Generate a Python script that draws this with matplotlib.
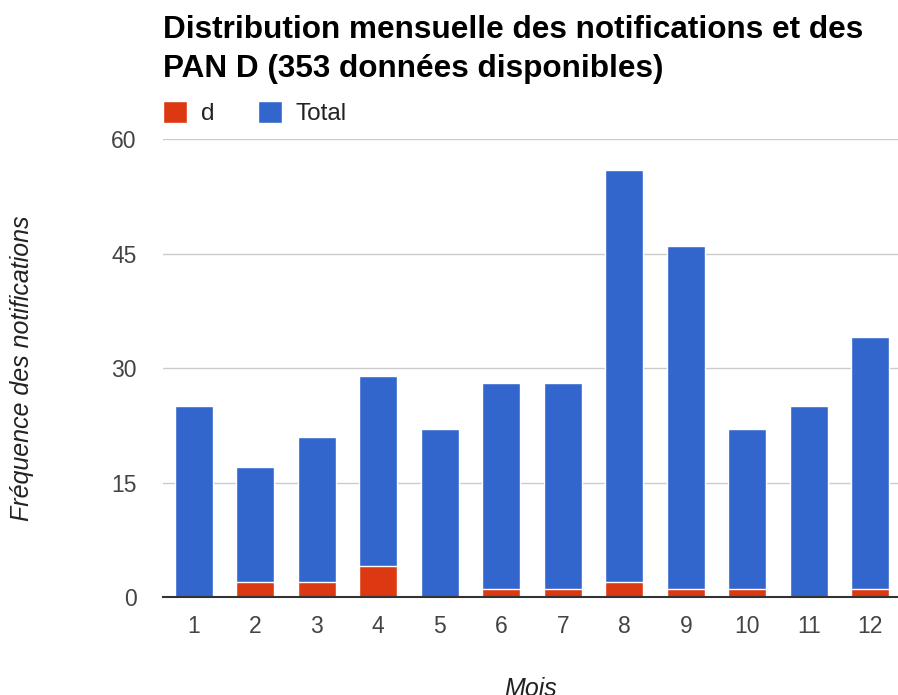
import matplotlib.pyplot as plt
import numpy as np

mois = ['1', '2', '3', '4', '5', '6', '7', '8', '9', '10', '11', '12']
total = [25, 17, 21, 29, 22, 28, 28, 56, 46, 22, 25, 34]
d = [0, 2, 2, 4, 0, 1, 1, 2, 1, 1, 0, 1]
yticks = [0, 15, 30, 45, 60]

plt.rcParams['font.family'] = ['Liberation Sans', 'DejaVu Sans']

fig = plt.figure(figsize=(8.98, 6.95), dpi=100)
ax = fig.add_axes([0.1815, 0.141, 0.8185, 0.659])

x = np.arange(1, len(mois) + 1)
ax.bar(x, total, width=0.62, color='#3366cc', edgecolor='white', linewidth=1, label='Total', zorder=2)
ax.bar(x, d, width=0.62, color='#dc3912', edgecolor='white', linewidth=1, label='d', zorder=3)

ax.set_xlim(0.5, 12.45)
ax.set_ylim(0, 60)
ax.set_xticks(x)
ax.set_xticklabels(mois)
ax.set_yticks(yticks)
ax.tick_params(length=0, labelsize=16.5, labelcolor='#444444')
ax.tick_params(axis='x', pad=13)
ax.tick_params(axis='y', pad=19)
ax.grid(axis='y', color='#cccccc', linewidth=1, zorder=0)
ax.set_axisbelow(True)
for s in ['top', 'right', 'left']:
    ax.spines[s].set_visible(False)
ax.spines['bottom'].set_color('#333333')
ax.spines['bottom'].set_linewidth(1.5)
ax.spines['bottom'].set_zorder(4)

ax.set_xlabel('Mois', fontsize=18, style='italic', color='#222222')
ax.xaxis.set_label_coords(0.5, -0.175)
ax.set_ylabel('Fréquence des notifications', fontsize=18, style='italic', color='#222222')
ax.yaxis.set_label_coords(-0.175, 0.5)

handles, labels = ax.get_legend_handles_labels()
ax.legend(handles[::-1], labels[::-1], loc='lower left', bbox_to_anchor=(0.0, 1.03), ncol=2,
          frameon=False, handlelength=1.0, handleheight=1.0, columnspacing=1.8,
          handletextpad=0.55, borderaxespad=0, borderpad=0, fontsize=17.5, labelcolor='#222222')

fig.text(0.1815, 1 - 15 / 695, 'Distribution mensuelle des notifications et des\nPAN D (353 données disponibles)',
         fontsize=22.7, fontweight='bold', va='top', ha='left', linespacing=1.4)

plt.savefig('out.png', format='png')
